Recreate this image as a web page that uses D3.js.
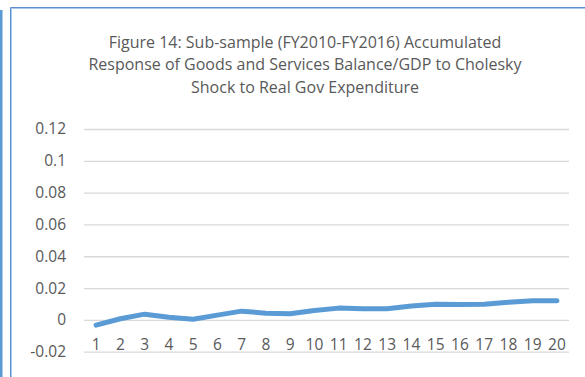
<!DOCTYPE html>
<html>
<head>
<meta charset="utf-8">
<script src="https://cdn.jsdelivr.net/npm/d3@7"></script>
<style>
  html, body { margin: 0; padding: 0; background: #fff; }
  svg { display: block; }
  text { font-family: "Open Sans", "Liberation Sans", sans-serif; fill: #595959; }
</style>
</head>
<body>
<svg id="chart" width="585" height="377"></svg>
<script>
// Accumulated response by period (horizon 1..20)
const periods = d3.range(1, 21).map(String);
const response = [-0.0033, 0.0007, 0.0036, 0.0017, 0.0004, 0.0030, 0.0055, 0.0042, 0.0038, 0.0059,
                  0.0074, 0.0070, 0.0070, 0.0087, 0.0099, 0.0097, 0.0099, 0.0111, 0.0120, 0.0120];
const yTicks = [-0.02, 0, 0.02, 0.04, 0.06, 0.08, 0.1, 0.12];
const titleLines = [
  "Figure 14: Sub-sample (FY2010-FY2016) Accumulated",
  "Response of Goods and Services Balance/GDP to Cholesky",
  "Shock to Real Gov Expenditure"
];

const svg = d3.select("#chart");

// page decoration: left rule and chart frame
svg.append("rect").attr("x", 0).attr("y", 10).attr("width", 2.5).attr("height", 367).attr("fill", "#5b9bd5");
svg.append("path").attr("d", "M10.5,377V7.5H585").attr("fill", "none").attr("stroke", "#5b8fcf").attr("stroke-width", 1);
svg.append("path").attr("d", "M11.5,377V8.5H585").attr("fill", "none").attr("stroke", "#a8c8ec").attr("stroke-width", 1);

const plot = { left: 84, right: 569, top: 129, bottom: 351.7 };

const x = d3.scaleBand().domain(periods).range([plot.left, plot.right]);
const y = d3.scaleLinear().domain([-0.02, 0.12]).range([plot.bottom, plot.top]);

const labelFont = 15.5;

// horizontal gridlines with value labels
const yAxis = d3.axisLeft(y).tickValues(yTicks).tickSize(-(plot.right - plot.left)).tickPadding(18)
  .tickFormat(d => d === 0 ? "0" : String(+d.toFixed(2)));
const gy = svg.append("g").attr("transform", `translate(${plot.left},0)`).call(yAxis);
gy.select(".domain").remove();
gy.selectAll(".tick line").attr("stroke", "#d9d9d9").attr("stroke-width", 1.3);
gy.selectAll(".tick text").attr("font-size", labelFont).attr("fill", "#595959")
  .attr("font-family", '"Open Sans", sans-serif');

// category labels sit just above the bottom gridline
const xAxis = d3.axisBottom(x).tickSize(0).tickPadding(0);
const gx = svg.append("g").attr("transform", `translate(0,${y(0)})`).call(xAxis);
gx.select(".domain").remove();
gx.selectAll(".tick text").attr("font-size", labelFont).attr("fill", "#595959")
  .attr("font-family", '"Open Sans", sans-serif').attr("dy", null).attr("y", 30.5);

// response line
const line = d3.line()
  .x((d, i) => x(periods[i]) + x.bandwidth() / 2)
  .y(d => y(d));
svg.append("path").datum(response)
  .attr("d", line)
  .attr("fill", "none")
  .attr("stroke", "#5b9bd5")
  .attr("stroke-width", 5)
  .attr("stroke-linecap", "round")
  .attr("stroke-linejoin", "round");

// title
const title = svg.append("g");
titleLines.forEach((t, i) => {
  title.append("text")
    .attr("x", 305)
    .attr("y", 47.5 + i * 22.5)
    .attr("text-anchor", "middle")
    .attr("font-size", 16)
    .text(t);
});
</script>
</body>
</html>
